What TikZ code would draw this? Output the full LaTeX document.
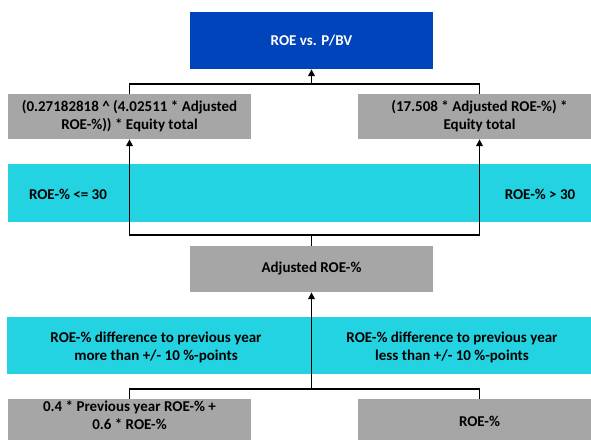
\documentclass[tikz,border=0pt]{standalone}
\usepackage{fontspec}
\setmainfont{Carlito}
\usetikzlibrary{arrows.meta}
\definecolor{titleblue}{RGB}{0,68,187}
\definecolor{bandcyan}{RGB}{36,211,226}
\definecolor{boxgray}{RGB}{166,166,166}
\begin{document}
\begin{tikzpicture}[x=1pt,y=-1pt,
  every node/.style={font=\fontsize{15}{18}\selectfont\bfseries, inner sep=0pt, align=center},
  graybox/.style={fill=boxgray, minimum width=243pt, minimum height=45pt},
  titlebox/.style={fill=titleblue, text=white, minimum width=243pt, minimum height=57pt},
  band/.style={fill=bandcyan, minimum width=594pt, minimum height=58pt},
  conn/.style={line width=1.8pt},
  arr/.style={conn,-{Triangle[length=7pt,width=6.5pt]}}]
\useasboundingbox (0,0) rectangle (591,439);
\clip (0,0) rectangle (591,439);
% bands
\node[band] (band1) at (304.5,193) {};
\node[band, minimum height=57pt] (band2) at (304,345.5) {};
\node (c1) at (68,194) {ROE-\% <= 30};
\node (c2) at (540,194) {ROE-\% > 30};
\node (c3) at (156,347) {ROE-\% difference to previous year\\more than +/- 10 \%-points};
\node (c4) at (452,347) {ROE-\% difference to previous year\\less than +/- 10 \%-points};
% boxes
\node[titlebox] (title) at (311.5,40.5) {ROE vs. P/BV};
\node[graybox] (tl) at (129.5,116.5) {(0.27182818 \^{} (4.02511 * Adjusted\\ROE-\%)) * Equity total};
\node[graybox] (tr) at (479.5,116.5) {(17.508 * Adjusted ROE-\%) *\\Equity total};
\node[graybox, minimum height=46pt] (adj) at (311.5,269) {Adjusted ROE-\%};
\node[graybox] (bl) at (129.5,421.5) {};
\node (bltext) at (129.5,415) {0.4 * Previous year ROE-\% +\\0.6 * ROE-\%};
\node[graybox] (br) at (479.5,421.5) {ROE-\%};
% junctions
\coordinate (j1) at (311.5,84);
\coordinate (j2) at (311.5,235);
\coordinate (j3) at (311.5,389);
% connectors
\draw[conn] (tl.north) |- (j1) -| (tr.north);
\draw[arr] (j1) -- (title.south);
\draw[conn] (adj.north) -- (j2);
\draw[arr] (j2) -| (tl.south);
\draw[arr] (j2) -| (tr.south);
\draw[conn] (bl.north) |- (j3) -| (br.north);
\draw[arr] (j3) -- (adj.south);
\end{tikzpicture}
\end{document}
